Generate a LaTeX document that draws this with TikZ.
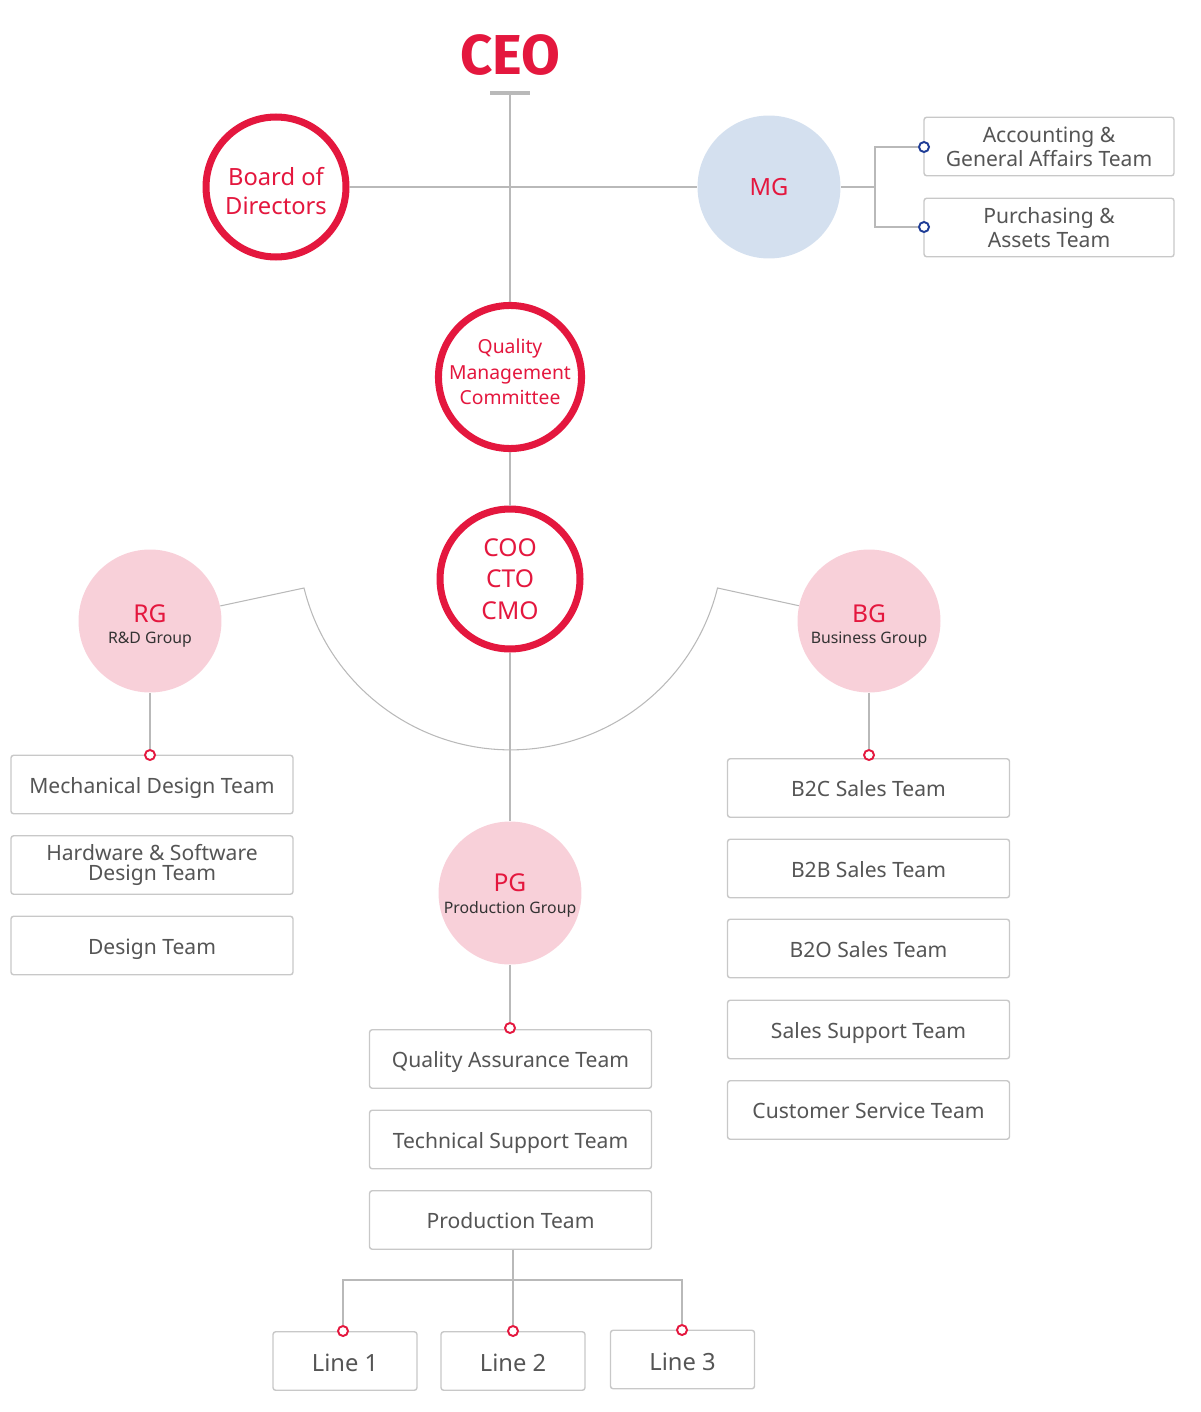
\documentclass[tikz,border=0pt]{standalone}
\usepackage{fontspec}
\setmainfont{Noto Sans}
\newfontfamily\ceofont{Fira Sans}
\usetikzlibrary{calc}
\definecolor{brandred}{RGB}{228,23,62}
\definecolor{linegray}{RGB}{185,185,185}
\definecolor{boxgray}{RGB}{200,200,200}
\definecolor{textgray}{RGB}{85,85,85}
\definecolor{grouppink}{RGB}{248,208,217}
\definecolor{mgblue}{RGB}{212,224,239}
\definecolor{dotblue}{RGB}{30,60,150}
\tikzset{
         conn/.style={draw=linegray,line width=0.6pt},
         redring/.style={circle,draw=brandred,line width=4pt,fill=white,minimum size=2.8cm,inner sep=0pt,align=center,text=brandred},
         groupball/.style={circle,fill=grouppink,minimum size=2.86cm,inner sep=0pt,align=center},
         teambox/.style={draw=boxgray,line width=0.8pt,rounded corners=1.5pt,minimum width=5.64cm,minimum height=1.17cm,inner sep=0pt,text=textgray,font=\fontsize{12}{13.5}\selectfont,align=center,fill=white},
         onebox/.style={teambox,text depth=0pt,text height=9.8pt},
         linebox/.style={onebox,text height=12pt,minimum width=2.88cm,font=\fontsize{13.5}{15}\selectfont},
         reddot/.style={circle,draw=brandred,line width=1.1pt,fill=white,inner sep=0pt,minimum size=0.2cm},
         bluedot/.style={reddot,draw=dotblue}
        }
\begin{document}
\begin{tikzpicture}[x=0.02cm,y=-0.02cm]
\useasboundingbox (0,0) rectangle (1200,1412);

\node[text=brandred,font=\fontsize{32}{32}\selectfont\ceofont\bfseries] (ceo) at (510,55) {CEO}; %top label
\node[fill=linegray,minimum width=0.8cm,minimum height=0.08cm,inner sep=0pt] (ceobar) at (510,93) {}; %bar

\node[redring,font=\fontsize{13.5}{16.5}\selectfont] (bod) at (276,187) {\rule{0pt}{14.5pt}Board of\\Directors};
\node[circle,fill=mgblue,minimum size=2.86cm,inner sep=0pt,text=brandred,font=\fontsize{13.5}{16}\selectfont] (mg) at (769,187) {MG};
\node[redring,font=\fontsize{11}{14.5}\selectfont] (qmc) at (510,377) {Quality\\Management\\Committee\rule[-5.6pt]{0pt}{5.6pt}};
\node[redring,font=\fontsize{14}{18}\selectfont] (coo) at (510,579) {COO\\CTO\\CMO};

\node[groupball] (rg) at (150,621) {\fontsize{14}{15}\selectfont\textcolor{brandred}{\rule{0pt}{15.5pt}RG}\\\fontsize{9}{11}\selectfont\textcolor{black!80}{R\&D Group}};
\node[groupball] (bg) at (869,621) {\fontsize{14}{15}\selectfont\textcolor{brandred}{\rule{0pt}{15.5pt}BG}\\\fontsize{9}{11}\selectfont\textcolor{black!80}{Business Group}};
\node[groupball] (pg) at (510,893) {\fontsize{14}{15}\selectfont\textcolor{brandred}{\rule{0pt}{13pt}PG}\\\fontsize{9}{11}\selectfont\textcolor{black!80}{Production Group}};

% MG teams
\node[teambox,minimum width=5cm] (acc) at (1049,146.5) {Accounting \&\\General Affairs Team};
\node[teambox,minimum width=5cm] (pur) at (1049,227.5) {Purchasing \&\\Assets Team};

% RG teams
\node[onebox] (mech) at (152,784.5) {Mechanical Design Team};
\node[teambox,font=\fontsize{12}{11.5}\selectfont] (hwsw) at (152,865) {Hardware \& Software\\Design Team};
\node[onebox] (des) at (152,945.5) {Design Team};

% BG teams
\node[onebox] (b2c) at (868.5,788) {B2C Sales Team};
\node[onebox] (b2b) at (868.5,868.5) {B2B Sales Team};
\node[onebox] (b2o) at (868.5,948.5) {B2O Sales Team};
\node[onebox] (sup) at (868.5,1029.5) {Sales Support Team};
\node[onebox] (cs) at (868.5,1110) {Customer Service Team};

% PG teams
\node[onebox] (qa) at (510.5,1059) {Quality Assurance Team};
\node[onebox] (tech) at (510.5,1139.5) {Technical Support Team};
\node[onebox] (prod) at (510.5,1220) {Production Team};
\node[linebox] (line1) at (345,1361) {Line 1};
\node[linebox] (line2) at (513,1361) {Line 2};
\node[linebox] (line3) at (682.5,1359.5) {Line 3};

% dots
\node[bluedot] (accdot) at (924,147) {};
\node[bluedot] (purdot) at (924,227) {};
\node[reddot] (rgdot) at (150,755) {};
\node[reddot] (bgdot) at (869,755) {};
\node[reddot] (pgdot) at (510,1028) {};
\node[reddot] (l1dot) at (343,1331) {};
\node[reddot] (l2dot) at (513,1331) {};
\node[reddot] (l3dot) at (682,1330) {};

\coordinate (mgfork) at (875,187);
\coordinate (lfork) at (513,1280);
\coordinate (arcl) at (304,588);
\coordinate (arcr) at (717,588);

\draw[conn] (ceobar) -- (qmc); %trunk
\draw[conn] (qmc) -- (coo);
\draw[conn] (coo) -- (pg);
\draw[conn] (bod) -- (mg); %board line
\draw[conn] (mg) -- (mgfork) |- (accdot);
\draw[conn] (mgfork) |- (purdot);
\draw[conn] (rg) -- (arcl) arc[start angle=166.1,end angle=13.9,radius=213] -- (bg); %arc
\draw[conn] (rg) -- (rgdot);
\draw[conn] (bg) -- (bgdot);
\draw[conn] (pg) -- (pgdot);
\draw[conn] (l2dot |- prod.south) -- (l2dot);
\draw[conn] (l1dot) |- (lfork) -| (l3dot);
\end{tikzpicture}
\end{document}
